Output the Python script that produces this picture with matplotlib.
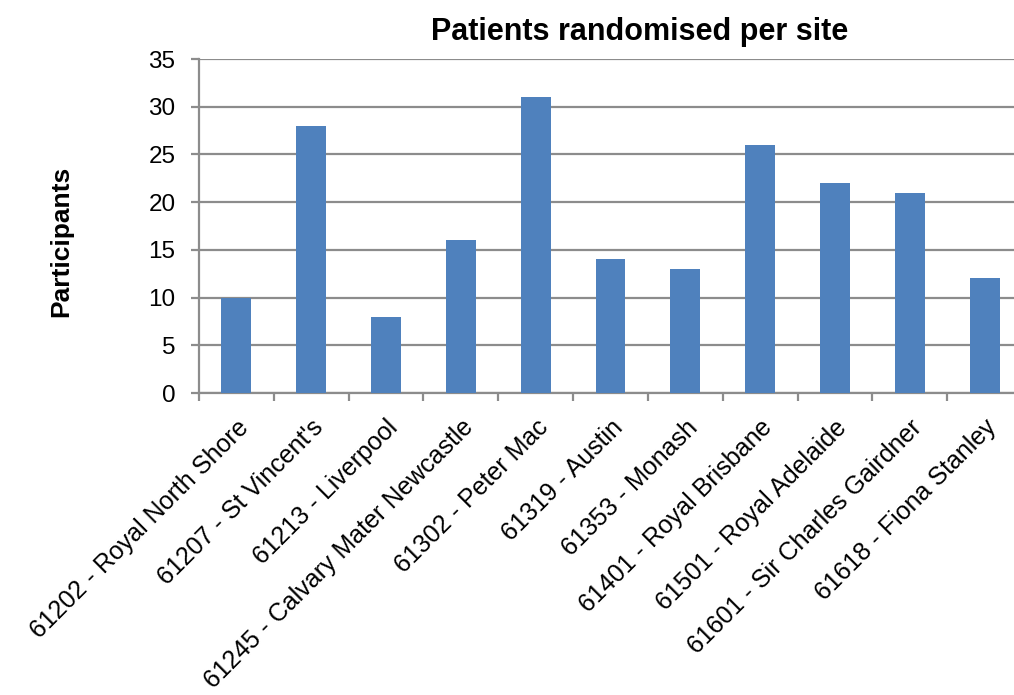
import matplotlib
matplotlib.use('Agg')
import numpy as np
from matplotlib import pyplot as plt

plt.rcParams['font.family'] = ['Liberation Sans', 'DejaVu Sans']

sites = [
  '61202 - Royal North Shore',
  "61207 - St Vincent's",
  '61213 - Liverpool',
  '61245 - Calvary Mater Newcastle',
  '61302 - Peter Mac',
  '61319 - Austin',
  '61353 - Monash',
  '61401 - Royal Brisbane',
  '61501 - Royal Adelaide',
  '61601 - Sir Charles Gairdner',
  '61618 - Fiona Stanley',
]
participants = [10, 28, 8, 16, 31, 14, 13, 26, 22, 21, 12]
y_ticks = [0, 5, 10, 15, 20, 25, 30, 35]

BAR_COLOR = '#4F81BD'
GRID_COLOR = '#8C8C8C'

fig = plt.figure(figsize=(10.14, 6.95), dpi=100)
ax = fig.add_axes([199 / 1014, 1 - 393 / 695, 823 / 1014, 334 / 695])

x = np.arange(len(sites))
ax.bar(x, participants, width=0.4, color=BAR_COLOR, zorder=3)

ax.set_xlim(-0.5, len(sites) - 0.5)
ax.set_ylim(0, 35)
ax.set_yticks(y_ticks)
ax.yaxis.grid(True, color=GRID_COLOR, linewidth=1.6, zorder=0)

# category ticks sit on the boundaries, labels at the bar centres
ax.set_xticks(np.arange(len(sites) + 1) - 0.5)
ax.set_xticklabels([])
ax.set_xticks(x, minor=True)
ax.set_xticklabels(sites, minor=True, rotation=45, ha='right',
                   rotation_mode='anchor', fontsize=18)
ax.tick_params(axis='x', which='minor', length=0, pad=16)
ax.tick_params(axis='x', which='major', length=6, width=1.6, color=GRID_COLOR)
ax.tick_params(axis='y', length=6, width=1.6, color=GRID_COLOR, labelsize=17.5, pad=11)

for side in ['top', 'right']:
  ax.spines[side].set_visible(False)
for side in ['left', 'bottom']:
  ax.spines[side].set_color(GRID_COLOR)
  ax.spines[side].set_linewidth(1.6)

fig.text(640 / 1014, 1 - 32 / 695, 'Patients randomised per site',
         ha='center', va='center', fontsize=22, fontweight='bold')
fig.text(61 / 1014, 1 - 241 / 695, 'Participants', rotation=90,
         ha='center', va='center', fontsize=19, fontweight='bold')

fig.savefig('out.png', dpi=100)
